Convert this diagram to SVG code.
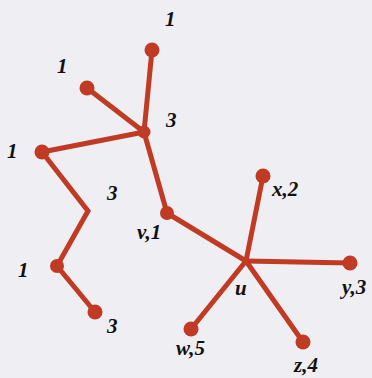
<svg xmlns="http://www.w3.org/2000/svg" width="372" height="378" viewBox="0 0 372 378">
<style>
.e{stroke:#c03a24;stroke-width:5;stroke-linecap:round;fill:none}
.n{fill:#c03a24}
text{font-family:'Liberation Serif','Times New Roman','DejaVu Serif',serif;font-style:italic;font-weight:700;font-size:21px;fill:#111}
</style>
<rect width="372" height="378" fill="#efeef2"/>
<g id="connectors">
<line class="e" x1="152" y1="50" x2="144" y2="132"/>
<line class="e" x1="87" y1="88" x2="144" y2="132"/>
<line class="e" x1="42" y1="152" x2="144" y2="132"/>
<polyline class="e" points="42,152 88,211 57,266 95,312"/>
<line class="e" x1="144" y1="132" x2="167" y2="213"/>
<line class="e" x1="167" y1="213" x2="246" y2="261"/>
<line class="e" x1="246" y1="261" x2="263" y2="176"/>
<line class="e" x1="246" y1="261" x2="350" y2="263"/>
<line class="e" x1="246" y1="261" x2="191" y2="329"/>
<line class="e" x1="246" y1="261" x2="303" y2="342"/>
</g>
<g id="n-top"><circle class="n" cx="152" cy="50" r="7.5"/><text x="165" y="26">1</text></g>
<g id="n-leaf2"><circle class="n" cx="87" cy="88" r="7.5"/><text x="57" y="73">1</text></g>
<g id="n-hub"><circle class="n" cx="144" cy="132" r="6.5"/><text x="166" y="127">3</text></g>
<g id="n-left"><circle class="n" cx="42" cy="152" r="7.5"/><text x="7" y="158">1</text></g>
<g id="n-bend"><text x="107" y="200">3</text></g>
<g id="n-mid"><circle class="n" cx="57" cy="266" r="7"/><text x="18" y="277">1</text></g>
<g id="n-leaf3"><circle class="n" cx="95" cy="312" r="7.5"/><text x="107" y="333">3</text></g>
<g id="n-v"><circle class="n" cx="167" cy="213" r="7"/><text x="137" y="239">v,1</text></g>
<g id="n-u"><circle class="n" cx="246" cy="261" r="3.5"/><text x="235" y="295">u</text></g>
<g id="n-x"><circle class="n" cx="263" cy="176" r="7.5"/><text x="272" y="196">x,2</text></g>
<g id="n-y"><circle class="n" cx="350" cy="263" r="7.5"/><text x="342" y="294">y,3</text></g>
<g id="n-w"><circle class="n" cx="191" cy="329" r="7.5"/><text x="176" y="355">w,5</text></g>
<g id="n-z"><circle class="n" cx="303" cy="342" r="7.5"/><text x="294" y="372">z,4</text></g>
</svg>
